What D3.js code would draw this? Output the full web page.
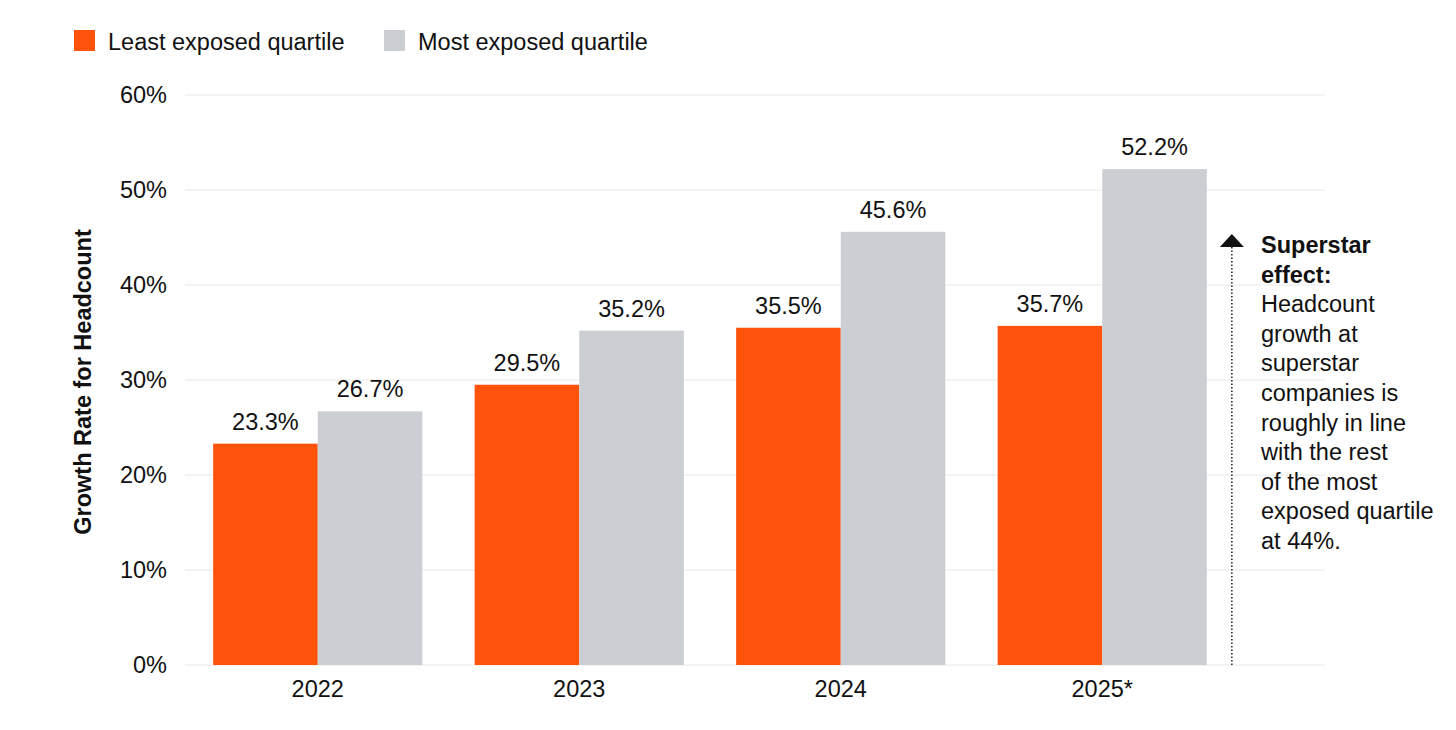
<!DOCTYPE html>
<html>
<head>
<meta charset="utf-8">
<script src="https://cdn.jsdelivr.net/npm/d3@7"></script>
<style>
  body { margin: 0; background: #fff; }
  svg { font-family: "Liberation Sans", Arial, sans-serif; }
</style>
</head>
<body>
<div id="chart"></div>
<script>
const years = ["2022", "2023", "2024", "2025*"];
const seriesNames = ["Least exposed quartile", "Most exposed quartile"];
const leastExposed = [23.3, 29.5, 35.5, 35.7];
const mostExposed = [26.7, 35.2, 45.6, 52.2];
const yTicks = [0, 10, 20, 30, 40, 50, 60];
const superstarRate = 44;
const noteBold = ["Superstar", "effect:"];
const noteLines = ["Headcount", "growth at", "superstar", "companies is", "roughly in line",
  "with the rest", "of the most", "exposed quartile", "at 44%."];

const colors = ["#ff520a", "#cbcfd4"];
const width = 1456, height = 730;
const fontSize = "23.5px";

const svg = d3.select("#chart").append("svg")
  .attr("width", width)
  .attr("height", height);

// Scales
const x = d3.scaleBand().domain(years).range([187, 1233]).paddingInner(0.2).paddingOuter(0.1);
const xSub = d3.scaleBand().domain(seriesNames).range([0, x.bandwidth()]);
const y = d3.scaleLinear().domain([0, 60]).range([665, 95]);

// Grid
svg.append("g").selectAll("line")
  .data(yTicks)
  .join("line")
  .attr("x1", 185).attr("x2", 1325)
  .attr("y1", (d) => y(d)).attr("y2", (d) => y(d))
  .attr("stroke", "#e8e8e8").attr("stroke-width", 1);

// Y axis
const yAxisG = svg.append("g").attr("transform", "translate(167,0)")
  .call(d3.axisLeft(y).tickValues(yTicks).tickSize(0).tickPadding(0).tickFormat((d) => d + "%"));
yAxisG.select(".domain").remove();
yAxisG.selectAll("text").attr("font-size", fontSize).attr("fill", "#111").attr("font-family", null);

svg.append("text")
  .attr("transform", "translate(91,382) rotate(-90)")
  .attr("text-anchor", "middle")
  .attr("font-size", fontSize).attr("font-weight", "bold").attr("fill", "#111")
  .text("Growth Rate for Headcount");

// X axis
const xAxisG = svg.append("g").attr("transform", "translate(0,665)")
  .call(d3.axisBottom(x).tickSize(0).tickPadding(15));
xAxisG.select(".domain").remove();
xAxisG.selectAll("text").attr("font-size", fontSize).attr("fill", "#111").attr("font-family", null);

// Bars
const rows = years.map((yr, i) => ({ year: yr, values: [leastExposed[i], mostExposed[i]] }));
const groups = svg.append("g").selectAll("g")
  .data(rows)
  .join("g")
  .attr("transform", (d) => `translate(${x(d.year)},0)`);

groups.selectAll("rect")
  .data((d) => d.values.map((v, i) => ({ key: seriesNames[i], value: v, i })))
  .join("rect")
  .attr("x", (d) => xSub(d.key))
  .attr("y", (d) => y(d.value))
  .attr("width", xSub.bandwidth())
  .attr("height", (d) => y(0) - y(d.value))
  .attr("fill", (d) => colors[d.i]);

groups.selectAll("text")
  .data((d) => d.values.map((v, i) => ({ key: seriesNames[i], value: v })))
  .join("text")
  .attr("x", (d) => xSub(d.key) + xSub.bandwidth() / 2)
  .attr("y", (d) => y(d.value) - 14)
  .attr("text-anchor", "middle")
  .attr("font-size", fontSize).attr("fill", "#111")
  .text((d) => d.value.toFixed(1) + "%");

// Legend
const legend = svg.append("g");
const legendX = [74, 384];
seriesNames.forEach((name, i) => {
  legend.append("rect")
    .attr("x", legendX[i]).attr("y", 30)
    .attr("width", 21).attr("height", 21)
    .attr("fill", colors[i]);
  legend.append("text")
    .attr("x", legendX[i] + 34).attr("y", 50)
    .attr("font-size", fontSize).attr("fill", "#111")
    .text(name);
});

// Superstar annotation
const arrowX = x(years[3]) + x.bandwidth() + 25;
svg.append("line")
  .attr("x1", arrowX).attr("x2", arrowX)
  .attr("y1", y(0)).attr("y2", y(superstarRate))
  .attr("stroke", "#222").attr("stroke-width", 1.5).attr("stroke-dasharray", "1.5,2");
svg.append("path")
  .attr("d", `M${arrowX - 12},${y(superstarRate)} L${arrowX + 12},${y(superstarRate)} L${arrowX},${y(superstarRate) - 13} Z`)
  .attr("fill", "#111");

const note = svg.append("text")
  .attr("x", 1261).attr("y", 253)
  .attr("font-size", fontSize).attr("fill", "#111");
noteBold.concat(noteLines).forEach((line, i) => {
  note.append("tspan")
    .attr("x", 1261)
    .attr("dy", i === 0 ? 0 : 29.6)
    .attr("font-weight", i < noteBold.length ? "bold" : "normal")
    .text(line);
});
</script>
</body>
</html>
